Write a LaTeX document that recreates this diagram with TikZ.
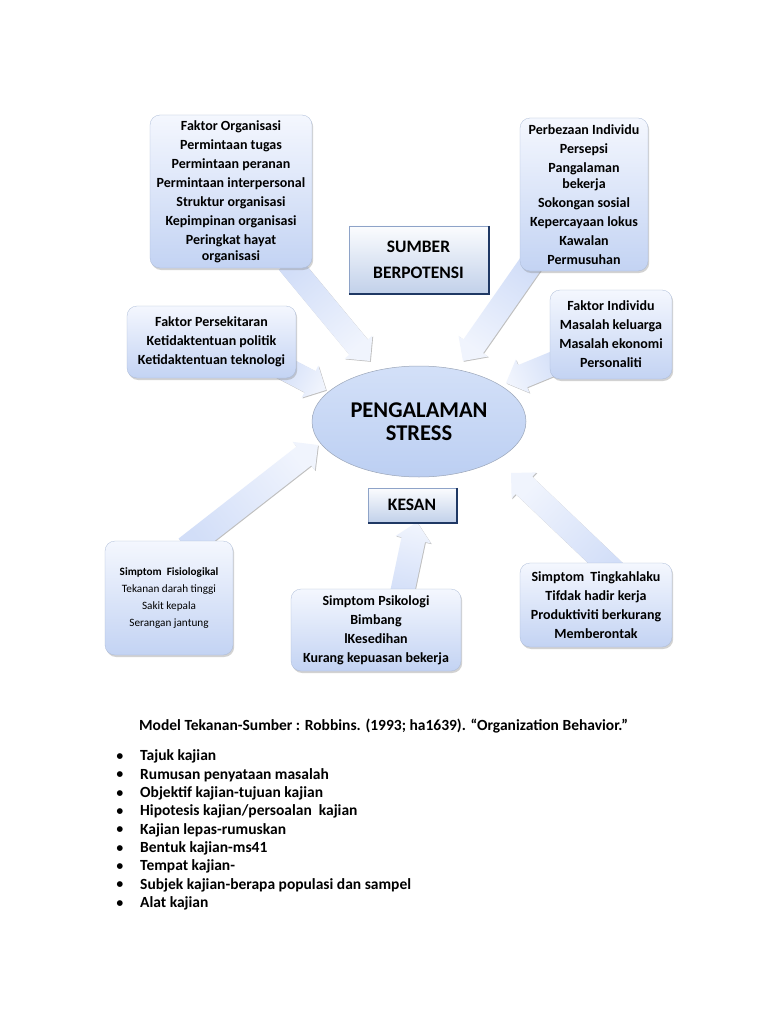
\documentclass[tikz,border=0pt]{standalone}
\usepackage{fontspec}
\setmainfont{Carlito}
\newfontfamily\dejavu{DejaVu Sans}
\usetikzlibrary{calc,shadows,shapes.geometric}

\definecolor{boxtop}{HTML}{F4F7FE}
\definecolor{boxbot}{HTML}{C3D3F3}
\definecolor{boxedge}{HTML}{A9B9D6}
\definecolor{arrtail}{HTML}{D2DEF8}
\definecolor{arrhead}{HTML}{F0F4FD}
\definecolor{elltop}{HTML}{D3E0F8}
\definecolor{ellbot}{HTML}{BCCFF2}
\definecolor{elledge}{HTML}{9AA5B8}
\definecolor{navy}{HTML}{1F3864}
\definecolor{sbtop}{HTML}{FBFCFE}
\definecolor{sbbot}{HTML}{C2D1EA}
\definecolor{sbedge}{HTML}{8EA3C8}

\tikzset{
  rbox/.style={rounded corners=10pt, top color=boxtop, bottom color=boxbot,
    draw=boxedge, line width=0.3pt,
    drop shadow={shadow xshift=1.2pt, shadow yshift=-2pt, opacity=0.35},
    align=center, inner sep=0pt, font=\bfseries\fontsize{14}{19}\selectfont},
  smallbox/.style={rbox, font=\fontsize{11.2}{17}\selectfont},
  sbox/.style={rectangle, top color=sbtop, bottom color=sbbot, draw=sbedge,
    line width=0.4pt, align=center, inner sep=0pt,
    font=\bfseries\fontsize{17.5}{26}\selectfont},
  navyedge/.style={draw=navy, line width=1.6pt},
  arrowfill/.style={top color=arrhead, bottom color=arrtail,
    drop shadow={shadow xshift=0.8pt, shadow yshift=-0.8pt, opacity=0.5}},
  capt/.style={anchor=west, inner sep=0pt, font=\bfseries\fontsize{15.5}{18}\selectfont},
  bul/.style={inner sep=0pt, font=\dejavu\fontsize{7.5}{9}\selectfont},
}

\newcommand\blockarr[3]{%
  \coordinate (#1n) at ($(#2)!18pt!(#1)$);
  \path[arrowfill, shading angle=#3]
    ($(#1)!12pt!90:(#2)$) -- ($(#1n)!12pt!90:(#2)$) -- ($(#1n)!18pt!90:(#2)$) -- (#2)
    -- ($(#1n)!18pt!-90:(#2)$) -- ($(#1n)!12pt!-90:(#2)$) -- ($(#1)!12pt!-90:(#2)$) -- cycle;
}

\begin{document}
\begin{tikzpicture}[x=1pt,y=-1pt]
\useasboundingbox (0,0) rectangle (768,1024);
\fill[white] (0,0) rectangle (768,1024);

% arrow end points
\coordinate (t1) at (288,262); \coordinate (h1) at (370,361);
\coordinate (t2) at (532,262); \coordinate (h2) at (463,361);
\coordinate (t3) at (280,366); \coordinate (h3) at (326,390);
\coordinate (t4) at (562,360); \coordinate (h4) at (506,383);
\coordinate (t5) at (186,548); \coordinate (h5) at (318,445);
\coordinate (t6) at (401,598); \coordinate (h6) at (417,522);
\coordinate (t7) at (618,575); \coordinate (h7) at (511,473);

\blockarr{t1}{h1}{-140}
\blockarr{t2}{h2}{145}
\blockarr{t3}{h3}{-118}
\blockarr{t4}{h4}{112}
\blockarr{t5}{h5}{-52}
\blockarr{t6}{h6}{-12}
\blockarr{t7}{h7}{46}

% boxes
\node[rbox, minimum width=162pt, minimum height=153pt] (fo) at (231,191.5)
  {Faktor Organisasi\\Permintaan tugas\\Permintaan peranan\\Permintaan interpersonal\\Struktur organisasi\\Kepimpinan organisasi\\Peringkat hayat\\[-3pt]organisasi};
\node[rbox, minimum width=128pt, minimum height=153pt] (pi) at (584,194.5)
  {Perbezaan Individu\\Persepsi\\Pangalaman\\[-3pt]bekerja\\Sokongan sosial\\Kepercayaan lokus\\Kawalan\\Permusuhan};
\node[rbox, minimum width=169pt, minimum height=72pt] (fp) at (211.5,342)
  {Faktor Persekitaran\\Ketidaktentuan politik\\Ketidaktentuan teknologi};
\node[rbox, minimum width=122pt, minimum height=89pt] (fi) at (611,334.5)
  {Faktor Individu\\Masalah keluarga\\Masalah ekonomi\\Personaliti};

\node[sbox, minimum width=139pt, minimum height=67pt] (sb) at (418.5,259.5) {SUMBER\\BERPOTENSI};
\draw[navyedge] ([xshift=0.8pt]sb.north east) -- ([xshift=0.8pt,yshift=-0.8pt]sb.south east) -- ([yshift=-0.8pt]sb.south west);

\node[ellipse, minimum width=214pt, minimum height=111pt, top color=elltop, bottom color=ellbot,
  draw=elledge, line width=0.5pt, inner sep=0pt, align=center,
  font=\bfseries\fontsize{22.5}{23.5}\selectfont] (ps) at (419,421.5) {PENGALAMAN\\STRESS};

\node[sbox, minimum width=88pt, minimum height=34pt] (ks) at (412,505) {KESAN};
\draw[navyedge] ([xshift=0.8pt]ks.north east) -- ([xshift=0.8pt,yshift=-0.8pt]ks.south east) -- ([yshift=-0.8pt]ks.south west);

\node[smallbox, minimum width=128pt, minimum height=114pt] (sf) at (169,598)
  {\textbf{Simptom\ \ Fisiologikal}\\Tekanan darah tinggi\\Sakit kepala\\Serangan jantung};
\node[rbox, minimum width=170pt, minimum height=82pt] (sp) at (376,630)
  {Simptom Psikologi\\Bimbang\\lKesedihan\\Kurang kepuasan bekerja};
\node[rbox, minimum width=152pt, minimum height=84pt] (st) at (596,605)
  {Simptom\ \ Tingkahlaku\\Tifdak hadir kerja\\Produktiviti berkurang\\Memberontak};

% caption and list
\node[capt] (cap) at (139,726.5) {Model Tekanan-Sumber : Robbins. (1993; ha1639). “Organization Behavior.”};
\foreach \t [count=\i from 0] in {Tajuk kajian, Rumusan penyataan masalah, Objektif kajian-tujuan kajian,
  Hipotesis kajian/persoalan\ \ kajian, Kajian lepas-rumuskan, Bentuk kajian-ms41, Tempat kajian-,
  Subjek kajian-berapa populasi dan sampel, Alat kajian}{
  \node[bul] (b\i) at (120,756.7+18.33*\i) {●};
  \node[capt] (l\i) at (140,756.7+18.33*\i) {\t};
}
\end{tikzpicture}
\end{document}
